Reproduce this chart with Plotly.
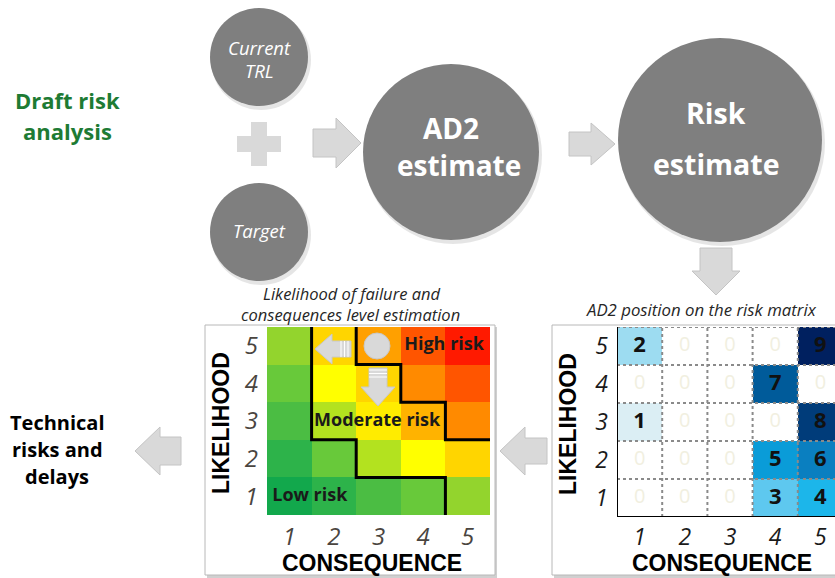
import plotly.graph_objects as go

W, H = 835, 578

# ---------------- data ----------------
consequence_ticks = ["1", "2", "3", "4", "5"]
likelihood_ticks = ["1", "2", "3", "4", "5"]

# risk level of every cell (rows: likelihood 1..5, cols: consequence 1..5)
risk_level = [
    [0, 1, 2, 3, 4],
    [1, 3, 5, 6, 8],
    [2, 5, 7, 9, 11],
    [3, 6, 8, 11, 12],
    [4, 8, 10, 12, 13],
]
level_colors = ["#12a84c", "#2db34a", "#4bbd43", "#68c93a", "#93d42d", "#b3e21f",
                "#ffff00", "#ffec00", "#ffd500", "#ffb300", "#ffa000", "#ff8a00",
                "#ff5500", "#ff1a00"]

# zone boundaries (consequence, likelihood)
moderate_c = [1.5, 1.5, 2.5, 2.5, 4.5, 4.5]
moderate_l = [5.5, 2.5, 2.5, 1.5, 1.5, 0.5]
high_c = [2.5, 2.5, 3.5, 3.5, 4.5, 4.5, 5.5]
high_l = [5.5, 4.5, 4.5, 3.5, 3.5, 2.5, 2.5]
zone_labels = ["Low risk", "Moderate risk", "High risk"]
zone_c = [1.46, 2.97, 4.47]
zone_l = [1, 3, 5]

# AD2 items positioned on the risk matrix
ad2_items = [1, 2, 3, 4, 5, 6, 7, 8, 9]
ad2_consequence = [1, 1, 4, 5, 4, 5, 4, 5, 5]
ad2_likelihood = [3, 5, 1, 1, 2, 2, 4, 3, 5]
item_colors = ["#ffffff", "#dbeef4", "#9ddcf1", "#5ec8ef", "#1cb6ea", "#0a9cd8",
               "#0a7fc0", "#005b9a", "#003c7a", "#00205f"]

# ---------------- helpers ----------------
def discrete(colors):
    n = len(colors)
    cs = []
    for i, c in enumerate(colors):
        cs.append([i / n, c])
        cs.append([(i + 1) / n, c])
    return cs

def fx(px):
    return px / W

def fy(py):
    return 1 - py / H

ad2_grid = [[0] * 5 for _ in range(5)]
for it, c, l in zip(ad2_items, ad2_consequence, ad2_likelihood):
    ad2_grid[l - 1][c - 1] = it

fig = go.Figure()

# left matrix
fig.add_trace(go.Heatmap(
    z=risk_level, x=[1, 2, 3, 4, 5], y=[1, 2, 3, 4, 5],
    colorscale=discrete(level_colors), zmin=-0.5, zmax=len(level_colors) - 0.5,
    showscale=False, hoverinfo="skip", xaxis="x2", yaxis="y2"))
fig.add_trace(go.Scatter(x=moderate_c, y=moderate_l, mode="lines",
                         line=dict(color="black", width=3), xaxis="x2", yaxis="y2",
                         hoverinfo="skip", showlegend=False))
fig.add_trace(go.Scatter(x=high_c, y=high_l, mode="lines",
                         line=dict(color="black", width=3), xaxis="x2", yaxis="y2",
                         hoverinfo="skip", showlegend=False))
fig.add_trace(go.Scatter(x=zone_c, y=zone_l, mode="text", text=zone_labels,
                         textfont=dict(family="Open Sans", size=18, color="#1a1a1a", weight="bold"),
                         xaxis="x2", yaxis="y2", hoverinfo="skip", showlegend=False))

# right matrix
fig.add_trace(go.Heatmap(
    z=ad2_grid, x=[1, 2, 3, 4, 5], y=[1, 2, 3, 4, 5],
    colorscale=discrete(item_colors), zmin=-0.5, zmax=len(item_colors) - 0.5,
    showscale=False, hoverinfo="skip", xaxis="x3", yaxis="y3"))
zx, zy, nx, ny, nt = [], [], [], [], []
for l in range(5):
    for c in range(5):
        v = ad2_grid[l][c]
        if v == 0:
            zx.append(c + 1); zy.append(l + 1)
        else:
            nx.append(c + 1); ny.append(l + 1); nt.append(str(v))
fig.add_trace(go.Scatter(x=zx, y=zy, mode="text", text=["0"] * len(zx),
                         textfont=dict(family="Open Sans", size=20, color="#f1efe0"),
                         xaxis="x3", yaxis="y3", hoverinfo="skip", showlegend=False))
fig.add_trace(go.Scatter(x=nx, y=ny, mode="text", text=nt,
                         textfont=dict(family="Open Sans", size=22, color="#111111", weight="bold"),
                         xaxis="x3", yaxis="y3", hoverinfo="skip", showlegend=False))

shapes = []
CIRCLE = "#7f7f7f"
ARROW = "#d9d9d9"
ARROW_LINE = "#c4c4c4"

# panels
for x0, x1 in [(205, 495), (552, 845)]:
    shapes.append(dict(type="rect", xref="x", yref="y", x0=x0 + 2, x1=x1 + 2, y0=327, y1=578,
                       fillcolor="#d0d0d0", line=dict(width=0), layer="below"))
    shapes.append(dict(type="rect", xref="x", yref="y", x0=x0, x1=x1, y0=325, y1=575,
                       fillcolor="white", line=dict(color="#b8b8b8", width=1), layer="below"))

# circles
for cx, cy, r in [(259, 57, 49), (259, 232, 49), (451, 152, 88), (720, 140, 102)]:
    shapes.append(dict(type="circle", xref="x", yref="y", x0=cx - r + 1, x1=cx + r + 3,
                       y0=cy - r + 2, y1=cy + r + 4, fillcolor="rgba(0,0,0,0.10)",
                       line=dict(width=0), layer="below"))
    shapes.append(dict(type="circle", xref="x", yref="y", x0=cx - r, x1=cx + r,
                       y0=cy - r, y1=cy + r, fillcolor=CIRCLE, line=dict(width=0),
                       layer="below"))

def arrow_h(x_tail, x_tip, x_head, yc, bh, hh):
    return (f"M {x_tail},{yc - bh} L {x_head},{yc - bh} L {x_head},{yc - hh} "
            f"L {x_tip},{yc} L {x_head},{yc + hh} L {x_head},{yc + bh} L {x_tail},{yc + bh} Z")

def arrow_v(y_tail, y_tip, y_head, xc, bw, hw):
    return (f"M {xc - bw},{y_tail} L {xc - bw},{y_head} L {xc - hw},{y_head} "
            f"L {xc},{y_tip} L {xc + hw},{y_head} L {xc + bw},{y_head} L {xc + bw},{y_tail} Z")

arrow_paths = [
    arrow_h(313, 361, 336, 143, 14, 25),
    arrow_h(569, 615, 591, 144, 12, 21),
    arrow_v(248, 295, 271, 716, 16, 24),
    arrow_h(547, 500, 525, 451, 13, 24),
    arrow_h(181, 135, 160, 451, 14, 24),
]
for p in arrow_paths:
    shapes.append(dict(type="path", xref="x", yref="y", path=p, fillcolor=ARROW,
                       line=dict(color=ARROW_LINE, width=1), layer="below"))

# plus sign
pc_x, pc_y, ext, arm = 259, 144, 22, 8
shapes.append(dict(type="rect", xref="x", yref="y", x0=pc_x - ext, x1=pc_x + ext,
                   y0=pc_y - arm, y1=pc_y + arm, fillcolor=ARROW, line=dict(width=0), layer="below"))
shapes.append(dict(type="rect", xref="x", yref="y", x0=pc_x - arm, x1=pc_x + arm,
                   y0=pc_y - ext, y1=pc_y + ext, fillcolor=ARROW, line=dict(width=0), layer="below"))

# icons inside the left matrix
shapes.append(dict(type="path", xref="x", yref="y", path=arrow_h(351, 315, 332, 349, 8, 15),
                   fillcolor=ARROW, line=dict(color="#c8c8c8", width=1), layer="above"))
for sx in [341, 344.5, 348]:
    shapes.append(dict(type="line", xref="x", yref="y", x0=sx, x1=sx, y0=341, y1=357,
                       line=dict(color="white", width=1), layer="above"))
shapes.append(dict(type="path", xref="x", yref="y", path=arrow_v(368, 406, 387, 378, 9, 17),
                   fillcolor=ARROW, line=dict(color="#c8c8c8", width=1), layer="above"))
for sy in [370, 373.5, 377]:
    shapes.append(dict(type="line", xref="x", yref="y", x0=369, x1=387, y0=sy, y1=sy,
                       line=dict(color="white", width=1), layer="above"))
shapes.append(dict(type="circle", xref="x", yref="y", x0=364, x1=390, y0=333, y1=359,
                   fillcolor=ARROW, line=dict(color="#c8c8c8", width=1), layer="above"))

# right matrix grid
for v in [1.5, 2.5, 3.5, 4.5]:
    shapes.append(dict(type="line", xref="x3", yref="y3", x0=v, x1=v, y0=0.5, y1=5.5,
                       line=dict(color="#8a8a8a", width=2, dash="dot"), layer="above"))
    shapes.append(dict(type="line", xref="x3", yref="y3", x0=0.5, x1=5.5, y0=v, y1=v,
                       line=dict(color="#8a8a8a", width=2, dash="dot"), layer="above"))
shapes.append(dict(type="line", xref="x3", yref="y3", x0=0.5, x1=5.5, y0=5.5, y1=5.5,
                   line=dict(color="#8a8a8a", width=2, dash="dot"), layer="above"))
shapes.append(dict(type="line", xref="x3", yref="y3", x0=0.5, x1=0.5, y0=0.5, y1=5.5,
                   line=dict(color="black", width=2), layer="above"))
shapes.append(dict(type="line", xref="x3", yref="y3", x0=0.5, x1=5.5, y0=0.5, y1=0.5,
                   line=dict(color="black", width=2), layer="above"))

ann = []
def text(x, y, t, size, color="black", bold=False, italic=False, family="Open Sans", angle=0):
    ann.append(dict(x=x, y=y, xref="x", yref="y", text=t, showarrow=False,
                    textangle=angle, xanchor="center", yanchor="middle",
                    font=dict(family=family, size=size, color=color,
                              weight="bold" if bold else "normal",
                              style="italic" if italic else "normal")))

text(259, 47, "Current", 18.5, "white", italic=True)
text(259, 70, "TRL", 18.5, "white", italic=True)
text(259, 230, "Target", 18.5, "white", italic=True)
text(451, 128, "AD2", 28, "white", bold=True)
text(459, 165, "estimate", 28, "white", bold=True)
text(716, 113, "Risk", 28.5, "white", bold=True)
text(716, 164, "estimate", 28.5, "white", bold=True)
text(67, 100, "Draft risk", 22, "#1e7b34", bold=True)
text(67, 131, "analysis", 22, "#1e7b34", bold=True)
text(57, 422, "Technical", 20, "black", bold=True)
text(57, 449, "risks and", 20, "black", bold=True)
text(57, 476, "delays", 20, "black", bold=True)
text(351, 293, "Likelihood of failure and", 16.5, "#262626", italic=True)
text(350, 314, "consequences level estimation", 16.5, "#262626", italic=True)
text(701, 309, "AD2 position on the risk matrix", 16.8, "#262626", italic=True)
LBL = "Liberation Sans Narrow, Arial Narrow, sans-serif"
text(372, 563, "CONSEQUENCE", 23, "black", bold=True, family=LBL)
text(722, 563, "CONSEQUENCE", 23, "black", bold=True, family=LBL)
text(221, 423, "LIKELIHOOD", 23, "black", bold=True, family=LBL, angle=-90)
text(568, 424, "LIKELIHOOD", 23, "black", bold=True, family=LBL, angle=-90)

tick_left = dict(family="Open Sans", size=24, color="#4a4540", style="italic")
tick_right = dict(family="Open Sans", size=23, color="#1a1a1a", style="italic")

fig.update_layout(
    width=W, height=H, margin=dict(l=0, r=0, t=0, b=0),
    paper_bgcolor="white", plot_bgcolor="rgba(0,0,0,0)", showlegend=False,
    shapes=shapes, annotations=ann,
    xaxis=dict(domain=[0, 1], range=[0, W], visible=False, fixedrange=True),
    yaxis=dict(domain=[0, 1], range=[H, 0], visible=False, fixedrange=True),
    xaxis2=dict(domain=[fx(267), fx(490)], range=[0.5, 5.5], anchor="y2",
                tickvals=[1, 2, 3, 4, 5], ticktext=consequence_ticks, tickfont=tick_left,
                showgrid=False, zeroline=False, showline=False, ticks="", ticklabelstandoff=5),
    yaxis2=dict(domain=[fy(515), fy(327)], range=[0.5, 5.5], anchor="x2",
                tickvals=[1, 2, 3, 4, 5], ticktext=likelihood_ticks, tickfont=tick_left,
                showgrid=False, zeroline=False, showline=False, ticks="", ticklabelstandoff=8),
    xaxis3=dict(domain=[fx(617), 1.0], range=[0.5, 5.5 - 8 / 45.2], anchor="y3",
                tickvals=[1, 2, 3, 4, 5], ticktext=consequence_ticks, tickfont=tick_right,
                showgrid=False, zeroline=False, showline=False, ticks="", ticklabelstandoff=4),
    yaxis3=dict(domain=[fy(517), fy(327)], range=[0.5, 5.5], anchor="x3",
                tickvals=[1, 2, 3, 4, 5], ticktext=likelihood_ticks, tickfont=tick_right,
                showgrid=False, zeroline=False, showline=False, ticks="", ticklabelstandoff=8),
)

fig.write_html("out.html", config={"displayModeBar": False},
               post_script="document.body.style.margin='0px';")
